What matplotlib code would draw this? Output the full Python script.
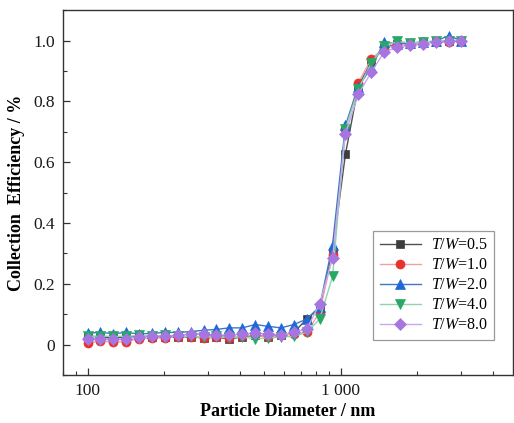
import matplotlib
matplotlib.use("Agg")
import matplotlib.pyplot as plt
from matplotlib.ticker import FixedLocator, FixedFormatter, LogLocator, NullFormatter, MultipleLocator

plt.rcParams["font.family"] = ["Liberation Serif", "DejaVu Serif"]
plt.rcParams["mathtext.fontset"] = "custom"
plt.rcParams["mathtext.it"] = "Liberation Serif:italic"
plt.rcParams["mathtext.rm"] = "Liberation Serif"

# Particle diameters (nm)
diameter = [100, 112.4, 126.5, 142.2, 159.9, 179.8, 202.2, 227.3, 255.7, 287.5,
            323.3, 363.5, 408.8, 459.7, 516.9, 581.3, 653.6, 735.0, 826.5, 929.4,
            1045.1, 1175.2, 1321.6, 1486.1, 1671.1, 1879.2, 2113.2, 2376.3, 2672.2, 3000]

eff_05 = [0.028, 0.025, 0.022, 0.025, 0.028, 0.026, 0.025, 0.024, 0.026, 0.022,
          0.024, 0.019, 0.025, 0.030, 0.026, 0.030, 0.040, 0.084, 0.120, 0.306,
          0.626, 0.850, 0.930, 0.975, 0.990, 0.990, 0.995, 0.995, 1.000, 1.000]
eff_10 = [0.005, 0.012, 0.008, 0.010, 0.020, 0.022, 0.022, 0.025, 0.025, 0.022,
          0.025, 0.022, 0.027, 0.030, 0.025, 0.030, 0.035, 0.040, 0.106, 0.295,
          0.710, 0.861, 0.940, 0.975, 0.985, 0.990, 0.995, 0.995, 0.995, 1.000]
eff_20 = [0.038, 0.040, 0.036, 0.040, 0.035, 0.037, 0.040, 0.040, 0.043, 0.047,
          0.050, 0.055, 0.055, 0.066, 0.060, 0.055, 0.066, 0.084, 0.125, 0.328,
          0.721, 0.847, 0.912, 0.994, 0.990, 0.992, 0.995, 0.998, 1.016, 1.000]
eff_40 = [0.027, 0.028, 0.027, 0.027, 0.030, 0.028, 0.030, 0.027, 0.027, 0.025,
          0.027, 0.025, 0.025, 0.019, 0.022, 0.025, 0.027, 0.040, 0.084, 0.224,
          0.710, 0.840, 0.927, 0.981, 0.997, 0.993, 0.995, 0.998, 1.000, 0.998]
eff_80 = [0.019, 0.019, 0.018, 0.019, 0.025, 0.028, 0.028, 0.030, 0.036, 0.036,
          0.030, 0.033, 0.035, 0.038, 0.035, 0.033, 0.040, 0.051, 0.134, 0.284,
          0.694, 0.823, 0.896, 0.962, 0.978, 0.986, 0.990, 0.995, 1.000, 1.000]

labels = ["$T/W$=0.5", "$T/W$=1.0", "$T/W$=2.0", "$T/W$=4.0", "$T/W$=8.0"]
series = [eff_05, eff_10, eff_20, eff_40, eff_80]
markers = ["s", "o", "^", "v", "D"]
marker_sizes = [6, 6.5, 7, 7, 6]
marker_colors = ["#3d3d3d", "#e8322e", "#1f68d6", "#27a866", "#a775e0"]
line_colors = ["#505050", "#f2a0a0", "#3c78c8", "#90d4ac", "#c8a8ef"]

fig = plt.figure(figsize=(5.14, 4.23), dpi=100)
ax = fig.add_axes([0.1226, 0.1135, 0.8754, 0.8625])

for y, lab, m, ms, mc, lc in zip(series, labels, markers, marker_sizes, marker_colors, line_colors):
    ax.plot(diameter, y, color=lc, lw=1.0, marker=m, ms=ms,
            markerfacecolor=mc, markeredgecolor=mc, markeredgewidth=0.5, label=lab)

ax.set_xscale("log")
ax.set_xlim(80, 4800)
ax.set_ylim(-0.1, 1.1)

ax.xaxis.set_major_locator(FixedLocator([100, 1000]))
ax.xaxis.set_major_formatter(FixedFormatter(["100", "1 000"]))
ax.xaxis.set_minor_locator(LogLocator(base=10, subs=range(2, 10), numticks=20))
ax.xaxis.set_minor_formatter(NullFormatter())

ax.yaxis.set_major_locator(FixedLocator([0, 0.2, 0.4, 0.6, 0.8, 1.0]))
ax.yaxis.set_major_formatter(FixedFormatter(["0", "0.2", "0.4", "0.6", "0.8", "1.0"]))
ax.yaxis.set_minor_locator(MultipleLocator(0.1))

ax.tick_params(which="major", direction="in", length=5, width=0.9, labelsize=12.5,
               colors="#333333", labelcolor="#1a1a1a", pad=6)
ax.tick_params(which="minor", direction="in", length=3, width=0.8, colors="#333333")
for sp in ax.spines.values():
    sp.set_color("#333333")
    sp.set_linewidth(1.0)

ax.set_xlabel("Particle Diameter / nm", fontsize=13, fontweight="bold", labelpad=3)
ax.set_ylabel("Collection  Efficiency / %", fontsize=13, fontweight="bold", labelpad=6)

leg = ax.legend(loc="upper left", bbox_to_anchor=(0.726, 0.454), bbox_transform=fig.transFigure,
                borderaxespad=0, fontsize=11.5, frameon=True, fancybox=False,
                edgecolor="#808080", handlelength=2.6, labelspacing=0.25,
                handletextpad=0.6, borderpad=0.4)
leg.get_frame().set_linewidth(0.9)

fig.savefig("out.png", dpi=100)
